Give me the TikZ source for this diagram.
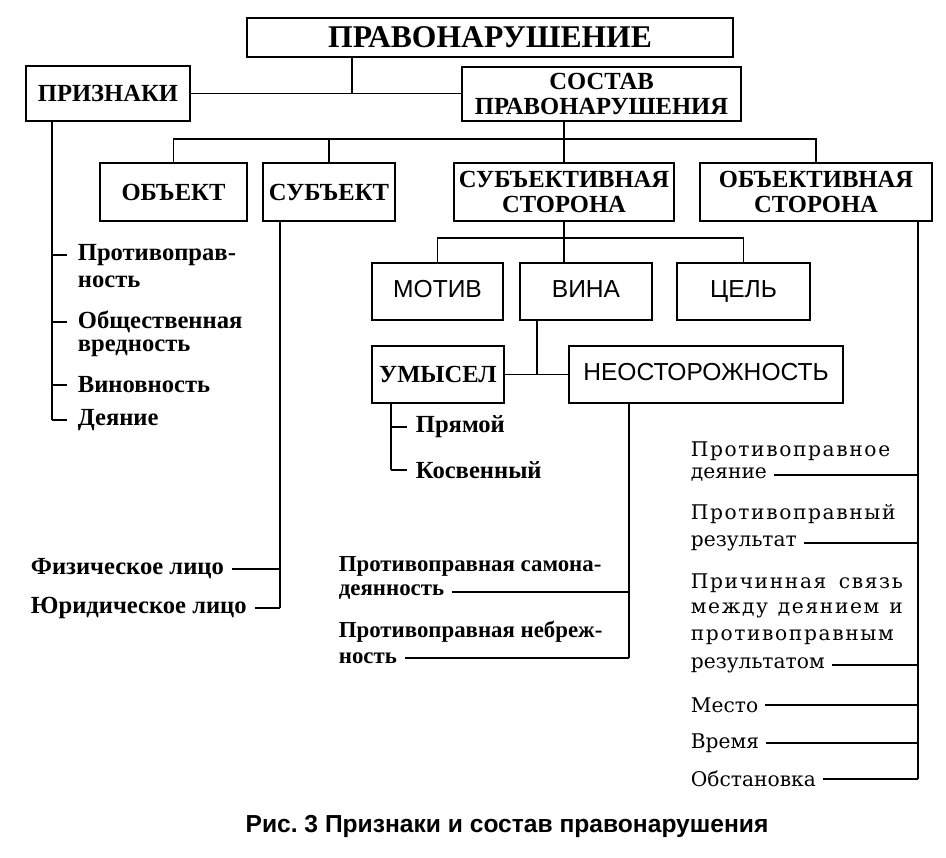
\documentclass[tikz,border=0pt]{standalone}
\usepackage{fontspec}
\setmainfont{Liberation Serif}
\newfontfamily\labelsans{Liberation Sans}
\newfontfamily\rightfont{DejaVu Serif}
\newfontfamily\rightwide[LetterSpace=8]{DejaVu Serif}
\newcommand{\rline}[1]{\makebox[4.24cm][l]{#1}}

\begin{document}
\frenchspacing
\begin{tikzpicture}[
    x=0.02cm, y=-0.02cm,
    line width=1pt,
    box/.style={draw,line width=1pt,align=center,inner sep=2pt,
                minimum height=1.16cm,font=\bfseries\fontsize{14}{14.5}\selectfont},
    sansbox/.style={box,minimum height=1.14cm,text height=1.6ex,text depth=0.2ex,
                    font=\labelsans\fontsize{14}{16}\selectfont},
    item/.style={anchor=west,inner sep=0pt,font=\bfseries\fontsize{14}{16}\selectfont},
    mitem/.style={item,font=\bfseries\fontsize{13}{15}\selectfont},
    ritem/.style={anchor=west,inner sep=0pt,font=\rightfont\fontsize{11.5}{13}\selectfont},
    rwide/.style={ritem,font=\rightwide\fontsize{11.5}{13}\selectfont}
]
\useasboundingbox (0,0) rectangle (946,858);

\node[box,minimum width=9.72cm,minimum height=0.78cm,
      font=\bfseries\fontsize{18}{18}\selectfont] (top) at (490,37.5) {ПРАВОНАРУШЕНИЕ};
\node[box,minimum width=3.28cm,minimum height=1.10cm] (priznaki) at (108,93.5) {ПРИЗНАКИ};
\node[box,minimum width=5.58cm,minimum height=1.08cm] (sostav) at (601.5,94) {СОСТАВ\\ПРАВОНАРУШЕНИЯ};

\node[box,minimum width=2.94cm] (obj) at (173.5,192) {ОБЪЕКТ};
\node[box,minimum width=2.64cm] (subj) at (329,192) {СУБЪЕКТ};
\node[box,minimum width=4.40cm] (subside) at (564,192) {СУБЪЕКТИВНАЯ\\СТОРОНА};
\node[box,minimum width=4.64cm] (objside) at (816,192) {ОБЪЕКТИВНАЯ\\СТОРОНА};

\node[sansbox,minimum width=2.62cm] (motiv) at (437.5,291.5) {МОТИВ};
\node[sansbox,minimum width=2.64cm] (vina) at (586,291.5) {ВИНА};
\node[sansbox,minimum width=2.66cm] (cel) at (743.5,291.5) {ЦЕЛЬ};
\node[box,minimum width=2.64cm,minimum height=1.14cm] (umysel) at (438,374.5) {УМЫСЕЛ};
\node[sansbox,minimum width=5.48cm] (neost) at (706,374.5) {НЕОСТОРОЖНОСТЬ};

\coordinate (j1) at (352,93.5);
\coordinate (bus2) at (0,139);
\coordinate (bus3) at (0,238);
\coordinate (j4) at (537,374.5);
\coordinate (lsp) at (52,0);
\coordinate (ssp) at (280,0);
\coordinate (usp) at (391,0);
\coordinate (nsp) at (629,0);
\coordinate (rsp) at (918,0);

\draw (top.south -| j1) -- (j1);
\draw (priznaki.east) -- (priznaki.east -| sostav.west);
\draw (sostav.south -| subside.north) -- (subside.north);
\draw (obj.north) -- (obj.north |- bus2) -- (objside.north |- bus2) -- (objside.north);
\draw (subj.north) -- (subj.north |- bus2);
\draw (subside.south) -- (subside.south |- vina.north);
\draw (motiv.north) -- (motiv.north |- bus3) -- (cel.north |- bus3) -- (cel.north);
\draw (vina.south -| j4) -- (j4);
\draw (umysel.east) -- (neost.west);

% признаки
\node[item] (pr1) at (77,255) {Противоправ-};
\node[item] (pr1b) at (77,282) {ность};
\node[item] (pr2) at (77,322) {Общественная};
\node[item] (pr2b) at (77,348) {вредность};
\node[item] (pr3) at (77,385) {Виновность};
\node[item] (pr4) at (77,420) {Деяние};
\draw (priznaki.south -| lsp) -- (lsp |- pr4);
\foreach \n in {pr1,pr2,pr3,pr4}
    \draw (lsp |- \n) -- ([xshift=-0.2cm]\n.west);

% субъект
\node[item] (fiz) at (30,569) {Физическое лицо};
\node[item] (yur) at (30,608) {Юридическое лицо};
\draw (subj.south -| ssp) -- (ssp |- yur);
\foreach \n in {fiz,yur}
    \draw ([xshift=0.14cm]\n.east) -- (\n.east -| ssp);

% умысел
\node[item] (pryam) at (415,427) {Прямой};
\node[item] (kosv) at (415,470) {Косвенный};
\draw (umysel.south -| usp) -- (usp |- kosv);
\foreach \n in {pryam,kosv}
    \draw (usp |- \n) -- ([xshift=-0.16cm]\n.west);

% неосторожность
\node[mitem] (sam) at (338,566) {Противоправная самона-};
\node[mitem] (samb) at (338,592) {деянность};
\node[mitem] (neb) at (338,632) {Противоправная небреж-};
\node[mitem] (nebb) at (338,658) {ность};
\draw (neost.south -| nsp) -- (nsp |- nebb);
\foreach \n in {samb,nebb}
    \draw ([xshift=0.14cm]\n.east) -- (\n.east -| nsp);

% объективная сторона
\node[rwide] (r1a) at (690,451) {Противоправное};
\node[ritem] (r1b) at (690,475) {деяние};
\node[rwide] (r2a) at (690,514) {Противоправный};
\node[ritem] (r2b) at (690,543) {результат};
\node[rwide] (r3a) at (690,583) {\rline{Причинная\hfill связь}};
\node[rwide] (r3b) at (690,610) {\rline{между\hfill деянием\hfill и}};
\node[rwide] (r3c) at (690,637) {противоправным};
\node[ritem] (r3d) at (690,665) {результатом};
\node[ritem] (r4) at (690,705) {Место};
\node[ritem] (r5) at (690,743) {Время};
\node[ritem] (r6) at (690,779) {Обстановка};
\draw (objside.south -| rsp) -- (rsp |- r6);
\foreach \n in {r1b,r2b,r3d,r4,r5,r6}
    \draw ([xshift=0.12cm]\n.east) -- (\n.east -| rsp);

\node[font=\labelsans\bfseries\fontsize{14}{16}\selectfont] (caption) at (507,826)
    {Рис. 3 Признаки и состав правонарушения};
\end{tikzpicture}
\end{document}
